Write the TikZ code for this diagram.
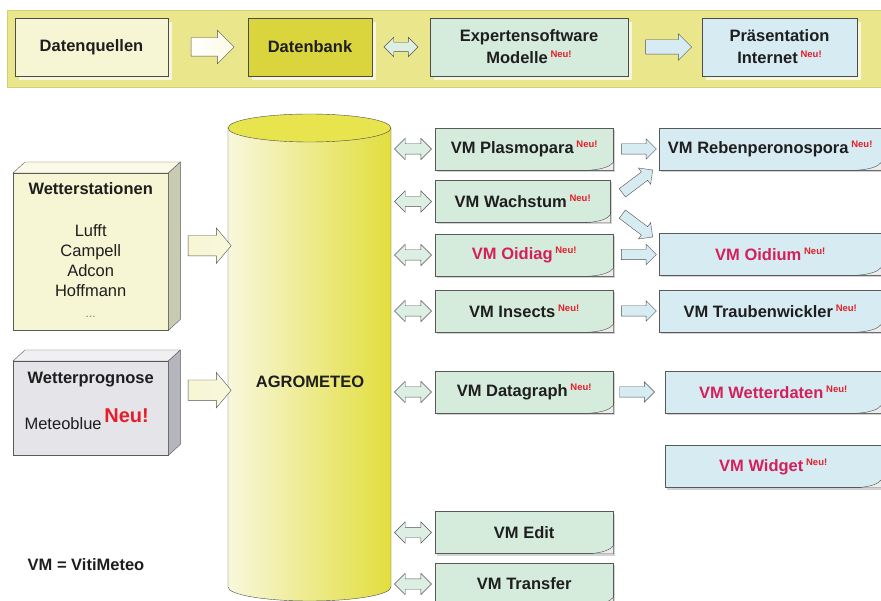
\documentclass[tikz,border=0pt]{standalone}
\usepackage{fontspec}
\setmainfont{Liberation Sans}
\usepackage{xcolor}
\usetikzlibrary{calc, positioning, shapes.arrows, shadows}

\definecolor{band}{HTML}{E9E68C}
\definecolor{bandline}{HTML}{D3CF72}
\definecolor{cream}{HTML}{F7F6D4}
\definecolor{dbyellow}{HTML}{DAD53C}
\definecolor{mint}{HTML}{D5EBDC}
\definecolor{sky}{HTML}{D6EBF2}
\definecolor{ink}{HTML}{1E1E1E}
\definecolor{crimson}{HTML}{D4205A}
\definecolor{neured}{HTML}{E41E2A}
\definecolor{cylleft}{HTML}{F8F7DC}
\definecolor{cylright}{HTML}{E2DE3E}
\definecolor{cyltop}{HTML}{E7E44E}
\definecolor{greyfront}{HTML}{E4E4E9}
\definecolor{greytop}{HTML}{F0F0F3}
\definecolor{greyside}{HTML}{B5B5BE}
\definecolor{creamtop}{HTML}{FBFAE8}
\definecolor{creamside}{HTML}{C9CBB0}

\newcommand\lblfont{\bfseries\fontsize{16.5}{22}\selectfont}
\newcommand\neu{\,\raisebox{6pt}{\fontsize{9.5}{10}\selectfont\bfseries\color{neured}Neu!}}

% folded corner at the lower right of a box
\newcommand\pagecurl[1]{%
  \fill[white!85!gray] ($(#1.south east)+(-24,0)$) .. controls ($(#1.south east)+(-10,-1)$)
    and ($(#1.south east)+(-3,-4)$) .. ($(#1.south east)+(0,-8)$) -- (#1.south east) -- cycle;
  \draw[gray!55!black] ($(#1.south east)+(-24,0)$) .. controls ($(#1.south east)+(-10,-1)$)
    and ($(#1.south east)+(-3,-4)$) .. ($(#1.south east)+(0,-8)$);}

% top and side faces of a box seen in perspective
\newcommand\slab[3]{%
  \filldraw[fill=#2, draw=gray!70!black] (#1.north west) -- ++(12,-11)
    -- ($(#1.north east)+(12,-11)$) -- (#1.north east) -- cycle;
  \filldraw[fill=#3, draw=gray!70!black] (#1.north east) -- ++(12,-11)
    -- ($(#1.south east)+(12,-11)$) -- (#1.south east) -- cycle;}

\tikzset{
  topbox/.style={draw=gray!60!black, minimum height=58, font=\lblfont, text=ink,
    align=center, inner sep=2pt,
    drop shadow={shadow xshift=4pt, shadow yshift=-4pt, fill=white, opacity=.7}},
  vmbox/.style={draw=gray!70!black, fill=mint, minimum width=178, minimum height=42,
    font=\lblfont, text=ink, inner sep=2pt,
    drop shadow={shadow xshift=2pt, shadow yshift=-2pt, opacity=.35}},
  webbox/.style={vmbox, fill=sky, minimum width=222},
  flatbox/.style={draw=gray!70!black, minimum width=155, font=\lblfont, text=ink},
  dblarrow/.style={double arrow, draw=gray!65!black, fill=mint!80!white,
    inner xsep=0, inner ysep=5, minimum height=37, double arrow head extend=5.5},
  fwdarrow/.style={single arrow, draw=gray!65!black, fill=sky,
    inner xsep=0, inner ysep=5, minimum height=35, single arrow head extend=5},
  inarrow/.style={single arrow, draw=gray!65!black, left color=cream, right color=cylleft,
    inner xsep=0, inner ysep=10, minimum height=43, single arrow head extend=7.5,
    single arrow tip angle=100}
}

\begin{document}
\begin{tikzpicture}[x=1pt, y=-1pt]
  \useasboundingbox (0,0) rectangle (881,601);

  % top band: overview of the chain
  \node[fill=band, draw=bandline, minimum width=874, minimum height=77,
    anchor=north west] (band) at (7,10) {};
  \node[topbox, fill=cream, minimum width=153] (dq) at (91.5,47) {Datenquellen};
  \node[topbox, fill=dbyellow, minimum width=124] (db) at (310,47) {Datenbank};
  \node[topbox, fill=mint, minimum width=198] (ex) at (529,47)
    {Expertensoftware\\Modelle\neu};
  \node[topbox, fill=sky, minimum width=155] (pr) at (779.5,47)
    {Pr\"asentation\\Internet\neu};
  \node[inarrow, left color=white, right color=cream!60!white, minimum height=43,
    inner ysep=9, single arrow head extend=7.5, single arrow tip angle=90] (a1)
    at ($(dq.east)!.5!(db.west)$) {};
  \node[dblarrow, minimum height=34, inner ysep=4.5, double arrow head extend=5] (a2)
    at ($(db.east)!.5!(ex.west)$) {};
  \node[fwdarrow, minimum height=46, inner ysep=7, single arrow head extend=6] (a3)
    at ($(ex.east)!.5!(pr.west)$) {};

  % data sources
  \node[flatbox, fill=cream, minimum height=157, anchor=north west] (wst) at (13,173) {};
  \slab{wst}{creamtop}{creamside}
  \node[font=\lblfont, text=ink, anchor=base] (wsttitle) at ($(wst.north)+(0,22)$)
    {Wetterstationen};
  \foreach \s [count=\i] in {Lufft,Campell,Adcon,Hoffmann}
    \node[font=\fontsize{16.5}{20}\selectfont, text=ink, anchor=base] (ws\i)
      at ($(wst.north)+(0,44+20*\i)$) {\s};
  \node[font=\fontsize{12}{14}\selectfont, text=gray, anchor=base] (wsdots)
    at ($(wst.north)+(0,145)$) {...};

  \node[flatbox, fill=greyfront, minimum height=94, anchor=north west] (wp) at (13,361) {};
  \slab{wp}{greytop}{greyside}
  \node[font=\lblfont, text=ink, anchor=base] (wptitle) at ($(wp.north)+(0,23)$)
    {Wetterprognose};
  \node[font=\fontsize{16.5}{20}\selectfont, text=ink, anchor=base] (wpname)
    at ($(wp.north)+(-4,69)$)
    {Meteoblue\,\raisebox{7pt}{\fontsize{20}{20}\selectfont\bfseries\color{neured}Neu!}};

  % central database
  \shade[left color=cylleft, right color=cylright, draw=gray!60!black]
    (228,128) -- (228,587) arc[start angle=180, end angle=0, x radius=81.5, y radius=14]
    -- (391,128) -- cycle;
  \filldraw[fill=cyltop, draw=gray!60!black] (309.5,128) ellipse[x radius=81.5, y radius=14];
  \node[font=\lblfont, text=ink] (agro) at (310,382) {AGROMETEO};

  \node[inarrow] (in1) at ($(wst.east)+(37,-6)$) {};
  \node[inarrow] (in2) at ($(wp.east)+(37,-18)$) {};

  % VitiMeteo modules
  \node[vmbox, anchor=west] (plas) at (435,149) {VM Plasmopara\neu};
  \node[vmbox, anchor=west, minimum width=175] (wachs) at (435,201.5) {VM Wachstum\neu};
  \node[vmbox, anchor=west, text=crimson] (oidiag) at (435,255) {VM Oidiag\neu};
  \node[vmbox, anchor=west] (insects) at (435,311) {VM Insects\neu};
  \node[vmbox, anchor=west] (dgraph) at (435,392) {VM Datagraph\neu};
  \node[vmbox, anchor=west] (edit) at (435,532.5) {VM Edit};
  \node[vmbox, anchor=west] (transfer) at (435,584) {VM Transfer};

  % web products
  \node[webbox, anchor=west] (reben) at (659,149) {VM Rebenperonospora\neu};
  \node[webbox, anchor=west, text=crimson] (oidium) at (659,254) {VM Oidium\neu};
  \node[webbox, anchor=west] (traub) at (659,311) {VM Traubenwickler\neu};
  \node[webbox, anchor=west, text=crimson, minimum width=216] (wdaten) at (665,392)
    {VM Wetterdaten\neu};
  \node[webbox, anchor=west, text=crimson, minimum width=216] (widget) at (665,466.5)
    {VM Widget\neu};

  \foreach \b in {plas,wachs,oidiag,insects,dgraph,edit,transfer,reben,oidium,traub,wdaten,widget}
    {\pagecurl{\b}}

  % links to the database
  \foreach \b in {plas,wachs,oidiag,insects,dgraph,edit,transfer}
    \node[dblarrow] (link-\b) at ($(\b.west)+(-22,0)$) {};

  % links to the web products
  \node[fwdarrow] (f1) at ($(plas.east)!.5!(reben.west)$) {};
  \node[fwdarrow] (f2) at ($(oidiag.east)!.5!(oidium.west)$) {};
  \node[fwdarrow] (f3) at ($(insects.east)!.5!(traub.west)$) {};
  \node[fwdarrow] (f4) at ($(dgraph.east)+(21,0)$) {};
  \node[fwdarrow, minimum height=38, rotate=37] (f5) at ($(wachs.east)+(25,-18.5)$) {};
  \node[fwdarrow, minimum height=38, rotate=-37] (f6) at ($(wachs.east)+(25,22.5)$) {};

  \node[font=\lblfont, text=ink] (legend) at (86,565) {VM = VitiMeteo};
\end{tikzpicture}
\end{document}
